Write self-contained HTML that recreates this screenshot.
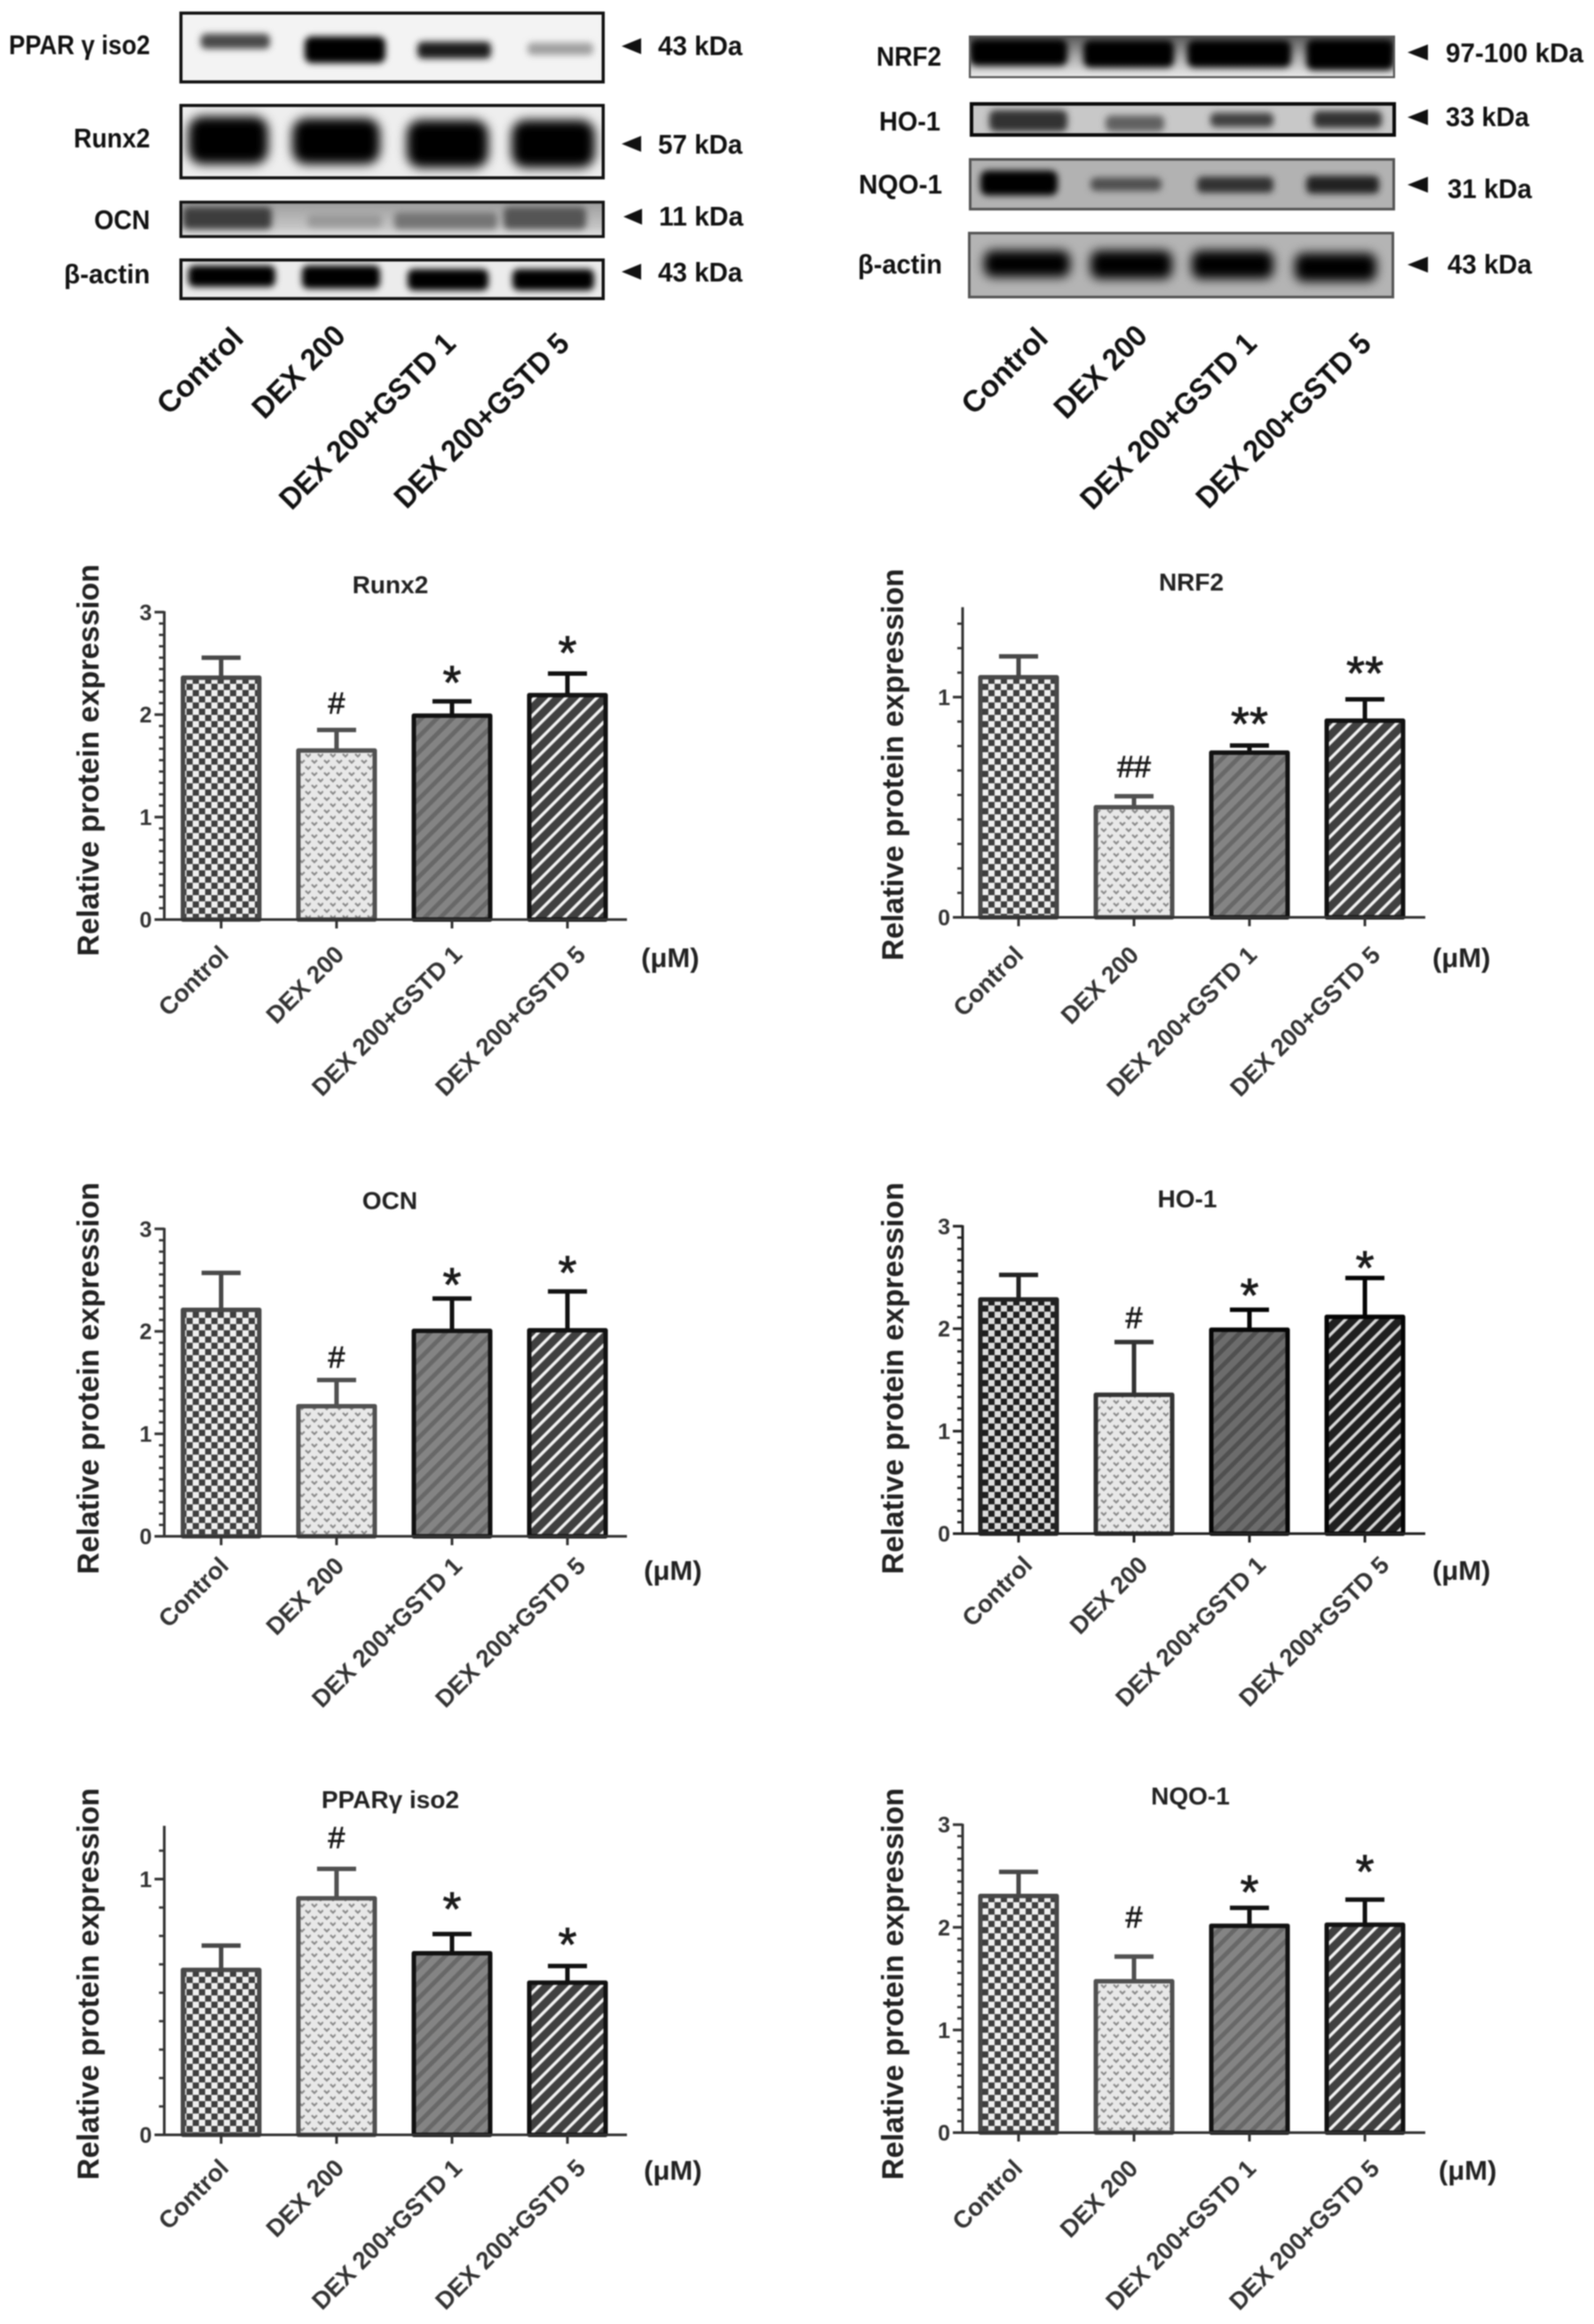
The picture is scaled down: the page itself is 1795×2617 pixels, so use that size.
<!DOCTYPE html>
<html lang="en">
<head>
<meta charset="utf-8">
<title>Western blots and relative protein expression</title>
<style>
html,body{margin:0;padding:0;background:#fff;}
#figure{display:block;width:1795px;height:2617px;filter:blur(0.8px);font-family:"Liberation Sans",sans-serif;}
.bt{font-family:"Liberation Sans",sans-serif;font-weight:700;font-size:31px;fill:#111;}
.sl{font-family:"Liberation Sans",sans-serif;font-weight:700;font-size:34px;fill:#111;}
</style>
</head>
<body>
<svg id="figure" xmlns="http://www.w3.org/2000/svg" width="1795" height="2617" viewBox="0 0 1795 2617">
<defs>
<filter id="b3" x="-20%" y="-60%" width="140%" height="220%"><feGaussianBlur stdDeviation="3.6"/></filter>
<filter id="b5" x="-20%" y="-60%" width="140%" height="220%"><feGaussianBlur stdDeviation="6"/></filter>
<pattern id="checkStd" width="14" height="14" patternUnits="userSpaceOnUse"><rect width="14" height="14" fill="#efefef"/><rect width="7" height="7" fill="#3e3e3e"/><rect x="7" y="7" width="7" height="7" fill="#3e3e3e"/></pattern>
<pattern id="checkDark" width="14" height="14" patternUnits="userSpaceOnUse"><rect width="14" height="14" fill="#dcdcdc"/><rect width="7" height="7" fill="#1e1e1e"/><rect x="7" y="7" width="7" height="7" fill="#1e1e1e"/></pattern>
<pattern id="dotStd" width="14" height="14" patternUnits="userSpaceOnUse"><rect width="14" height="14" fill="#e8e8e8"/><path d="M1 2l3 3 3-3M8 9l3 3 3-3" fill="none" stroke="#888" stroke-width="2"/></pattern>
<pattern id="grayStd" width="12.4" height="12.4" patternUnits="userSpaceOnUse" patternTransform="rotate(45)"><rect width="12.4" height="12.4" fill="#848484"/><rect width="5" height="12.4" fill="#686868"/></pattern>
<pattern id="grayDark" width="12.4" height="12.4" patternUnits="userSpaceOnUse" patternTransform="rotate(45)"><rect width="12.4" height="12.4" fill="#6c6c6c"/><rect width="5" height="12.4" fill="#505050"/></pattern>
<pattern id="lineStd" width="12.4" height="12.4" patternUnits="userSpaceOnUse" patternTransform="rotate(45)"><rect width="12.4" height="12.4" fill="#404040"/><rect width="3.4" height="12.4" fill="#f4f4f4"/></pattern>
<pattern id="lineDark" width="12.4" height="12.4" patternUnits="userSpaceOnUse" patternTransform="rotate(45)"><rect width="12.4" height="12.4" fill="#202020"/><rect width="3.4" height="12.4" fill="#d8d8d8"/></pattern>
<linearGradient id="ocnBg" x1="0" y1="0" x2="0" y2="1"><stop offset="0" stop-color="#9a9a9a"/><stop offset="0.7" stop-color="#c4c4c4"/><stop offset="1" stop-color="#e8e8e8"/></linearGradient>
<linearGradient id="nrfBg" x1="0" y1="0" x2="0" y2="1"><stop offset="0" stop-color="#555"/><stop offset="0.5" stop-color="#aaa"/><stop offset="1" stop-color="#efefef"/></linearGradient>
</defs>

<g id="blot-left">
  <svg x="202" y="13" width="479" height="81" viewBox="202 13 479 81">
    <rect x="202" y="13" width="479" height="81" fill="#f3f3f3"/>
    <g filter="url(#b3)">
      <rect x="226" y="38" width="78" height="17" rx="6" fill="#4a4a4a"/>
      <rect x="343" y="41" width="91" height="30" rx="8" fill="#000"/>
      <rect x="470" y="47" width="83" height="19" rx="6" fill="#1a1a1a"/>
      <rect x="594" y="48" width="74" height="14" rx="5" fill="#a0a0a0"/>
    </g>
    <rect x="203.5" y="14.5" width="476" height="78" fill="none" stroke="#111" stroke-width="4"/>
  </svg>
  <svg x="202" y="117" width="479" height="85" viewBox="202 117 479 85">
    <rect x="202" y="117" width="479" height="85" fill="#eeeeee"/>
    <g filter="url(#b5)">
      <rect x="212" y="131" width="90" height="54" rx="16" fill="#000"/>
      <rect x="329" y="133" width="99" height="52" rx="16" fill="#050505"/>
      <rect x="458" y="135" width="92" height="54" rx="16" fill="#000"/>
      <rect x="576" y="135" width="94" height="54" rx="16" fill="#000"/>
    </g>
    <rect x="203.5" y="118.5" width="476" height="82" fill="none" stroke="#111" stroke-width="4"/>
  </svg>
  <svg x="202" y="226" width="479" height="42" viewBox="202 226 479 42">
    <rect x="202" y="226" width="479" height="42" fill="url(#ocnBg)"/>
    <g filter="url(#b3)">
      <rect x="206" y="233" width="100" height="25" rx="6" fill="#3e3e3e"/>
      <rect x="346" y="241" width="84" height="15" rx="5" fill="#999"/>
      <rect x="444" y="239" width="116" height="19" rx="5" fill="#747474"/>
      <rect x="567" y="233" width="93" height="25" rx="6" fill="#555"/>
    </g>
    <rect x="203.5" y="227.5" width="476" height="39" fill="none" stroke="#111" stroke-width="3.5"/>
  </svg>
  <svg x="202" y="291" width="479" height="47" viewBox="202 291 479 47">
    <rect x="202" y="291" width="479" height="47" fill="#ececec"/>
    <g filter="url(#b3)">
      <rect x="212" y="299" width="98" height="24" rx="7" fill="#000"/>
      <rect x="340" y="299" width="88" height="26" rx="7" fill="#000"/>
      <rect x="459" y="303" width="91" height="24" rx="7" fill="#000"/>
      <rect x="577" y="303" width="92" height="24" rx="7" fill="#000"/>
    </g>
    <rect x="203.5" y="292.5" width="476" height="44" fill="none" stroke="#111" stroke-width="4"/>
  </svg>

  <text class="bt" x="10" y="61" textLength="159" lengthAdjust="spacingAndGlyphs">PPAR γ iso2</text>
  <text class="bt" x="83" y="166" textLength="86" lengthAdjust="spacingAndGlyphs">Runx2</text>
  <text class="bt" x="106" y="258" textLength="63" lengthAdjust="spacingAndGlyphs">OCN</text>
  <text class="bt" x="72" y="319" textLength="97" lengthAdjust="spacingAndGlyphs">β-actin</text>

  <text class="bt" x="741" y="62" textLength="95" lengthAdjust="spacingAndGlyphs">43 kDa</text>
  <text class="bt" x="741" y="173" textLength="95" lengthAdjust="spacingAndGlyphs">57 kDa</text>
  <text class="bt" x="742" y="254" textLength="95" lengthAdjust="spacingAndGlyphs">11 kDa</text>
  <text class="bt" x="741" y="317" textLength="95" lengthAdjust="spacingAndGlyphs">43 kDa</text>

  <polygon points="700,52 722,43 722,61" fill="#111"/>
  <polygon points="700,162 722,153 722,171" fill="#111"/>
  <polygon points="702,244 723,235 723,253" fill="#111"/>
  <polygon points="700,306 722,297 722,315" fill="#111"/>

  <text class="sl" transform="translate(276 383) rotate(-45)" text-anchor="end" textLength="121" lengthAdjust="spacingAndGlyphs">Control</text>
  <text class="sl" transform="translate(391 380) rotate(-45)" text-anchor="end" textLength="132" lengthAdjust="spacingAndGlyphs">DEX 200</text>
  <text class="sl" transform="translate(515 389) rotate(-45)" text-anchor="end" textLength="264" lengthAdjust="spacingAndGlyphs">DEX 200+GSTD 1</text>
  <text class="sl" transform="translate(643 389) rotate(-45)" text-anchor="end" textLength="262" lengthAdjust="spacingAndGlyphs">DEX 200+GSTD 5</text>
</g>

<g id="blot-right">
  <svg x="1091" y="40" width="480" height="48" viewBox="1091 40 480 48">
    <rect x="1091" y="40" width="480" height="48" fill="url(#nrfBg)"/>
    <g filter="url(#b3)">
      <rect x="1092" y="44" width="110" height="30" rx="8" fill="#000"/>
      <rect x="1220" y="45" width="102" height="31" rx="8" fill="#000"/>
      <rect x="1337" y="45" width="117" height="31" rx="8" fill="#000"/>
      <rect x="1471" y="44" width="99" height="35" rx="8" fill="#000"/>
    </g>
    <rect x="1092" y="41" width="478" height="46" fill="none" stroke="#555" stroke-width="2.5"/>
  </svg>
  <svg x="1092" y="115" width="480" height="39" viewBox="1092 115 480 39">
    <rect x="1092" y="115" width="480" height="39" fill="#c8c8c8"/>
    <g filter="url(#b3)">
      <rect x="1114" y="124" width="88" height="24" rx="7" fill="#303030"/>
      <rect x="1245" y="130" width="66" height="18" rx="6" fill="#606060"/>
      <rect x="1363" y="127" width="71" height="16" rx="6" fill="#404040"/>
      <rect x="1479" y="125" width="77" height="19" rx="6" fill="#303030"/>
    </g>
    <rect x="1094" y="117" width="476" height="35" fill="none" stroke="#0a0a0a" stroke-width="4"/>
  </svg>
  <svg x="1091" y="178" width="480" height="59" viewBox="1091 178 480 59">
    <rect x="1091" y="178" width="480" height="59" fill="#b2b2b2"/>
    <g filter="url(#b3)">
      <rect x="1104" y="192" width="87" height="28" rx="8" fill="#000"/>
      <rect x="1228" y="200" width="80" height="15" rx="6" fill="#505050"/>
      <rect x="1348" y="199" width="86" height="18" rx="6" fill="#303030"/>
      <rect x="1471" y="198" width="82" height="20" rx="6" fill="#202020"/>
    </g>
    <rect x="1092.5" y="179.5" width="477" height="56" fill="none" stroke="#555" stroke-width="3"/>
  </svg>
  <svg x="1090" y="261" width="480" height="75" viewBox="1090 261 480 75">
    <rect x="1090" y="261" width="480" height="75" fill="#b4b4b4"/>
    <g filter="url(#b5)">
      <rect x="1108" y="282" width="97" height="30" rx="10" fill="#000"/>
      <rect x="1228" y="282" width="92" height="32" rx="10" fill="#000"/>
      <rect x="1342" y="282" width="92" height="32" rx="10" fill="#000"/>
      <rect x="1458" y="285" width="92" height="32" rx="10" fill="#000"/>
    </g>
    <rect x="1091.5" y="262.5" width="477" height="72" fill="none" stroke="#555" stroke-width="3"/>
  </svg>

  <text class="bt" x="987" y="74" textLength="73" lengthAdjust="spacingAndGlyphs">NRF2</text>
  <text class="bt" x="990" y="147" textLength="69" lengthAdjust="spacingAndGlyphs">HO-1</text>
  <text class="bt" x="967" y="218" textLength="94" lengthAdjust="spacingAndGlyphs">NQO-1</text>
  <text class="bt" x="966" y="308" textLength="95" lengthAdjust="spacingAndGlyphs">β-actin</text>

  <text class="bt" x="1628" y="70" textLength="155" lengthAdjust="spacingAndGlyphs">97-100 kDa</text>
  <text class="bt" x="1628" y="142" textLength="94" lengthAdjust="spacingAndGlyphs">33 kDa</text>
  <text class="bt" x="1630" y="223" textLength="95" lengthAdjust="spacingAndGlyphs">31 kDa</text>
  <text class="bt" x="1630" y="308" textLength="95" lengthAdjust="spacingAndGlyphs">43 kDa</text>

  <polygon points="1585,59 1608,50 1608,68" fill="#111"/>
  <polygon points="1585,132 1608,123 1608,141" fill="#111"/>
  <polygon points="1585,208 1608,199 1608,217" fill="#111"/>
  <polygon points="1585,298 1608,289 1608,307" fill="#111"/>

  <text class="sl" transform="translate(1182 383) rotate(-45)" text-anchor="end" textLength="121" lengthAdjust="spacingAndGlyphs">Control</text>
  <text class="sl" transform="translate(1294 380) rotate(-45)" text-anchor="end" textLength="132" lengthAdjust="spacingAndGlyphs">DEX 200</text>
  <text class="sl" transform="translate(1417 389) rotate(-45)" text-anchor="end" textLength="264" lengthAdjust="spacingAndGlyphs">DEX 200+GSTD 1</text>
  <text class="sl" transform="translate(1546 389) rotate(-45)" text-anchor="end" textLength="262" lengthAdjust="spacingAndGlyphs">DEX 200+GSTD 5</text>
</g>

<g id="charts"></g>
</svg>

<script>
const categories = ['Control', 'DEX 200', 'DEX 200+GSTD 1', 'DEX 200+GSTD 5'];
const yAxisTitle = 'Relative protein expression';
const unitLabel = '(μM)';

const runx2Values = [2.36, 1.65, 1.99, 2.19];
const runx2Errors = [0.195, 0.20, 0.14, 0.21];
const runx2Marks = ['', '#', '*', '*'];
const runx2MarkGaps = [0, 0.265, 0.25, 0.27];
const runx2Ticks = [0, 1, 2, 3];

const nrf2Values = [1.09, 0.50, 0.748, 0.893];
const nrf2Errors = [0.095, 0.05, 0.032, 0.097];
const nrf2Marks = ['', '##', '**', '**'];
const nrf2MarkGaps = [0, 0.135, 0.13, 0.15];
const nrf2Ticks = [0, 1];

const ocnValues = [2.21, 1.27, 2.005, 2.01];
const ocnErrors = [0.36, 0.255, 0.315, 0.38];
const ocnMarks = ['', '#', '*', '*'];
const ocnMarkGaps = [0, 0.225, 0.20, 0.25];
const ocnTicks = [0, 1, 2, 3];

const ho1Values = [2.285, 1.355, 1.99, 2.115];
const ho1Errors = [0.24, 0.515, 0.195, 0.38];
const ho1Marks = ['', '#', '*', '*'];
const ho1MarkGaps = [0, 0.24, 0.205, 0.165];
const ho1Ticks = [0, 1, 2, 3];

const ppargValues = [0.645, 0.925, 0.71, 0.595];
const ppargErrors = [0.095, 0.115, 0.075, 0.065];
const ppargMarks = ['', '#', '*', '*'];
const ppargMarkGaps = [0, 0.123, 0.125, 0.11];
const ppargTicks = [0, 1];

const nqo1Values = [2.305, 1.475, 2.015, 2.025];
const nqo1Errors = [0.235, 0.24, 0.175, 0.245];
const nqo1Marks = ['', '#', '*', '*'];
const nqo1MarkGaps = [0, 0.385, 0.22, 0.34];
const nqo1Ticks = [0, 1, 2, 3];

const minorPerUnit = 9;
const labelNudge = [2, 2, 5, 14];

const charts = [
  {key:'runx2', title:'Runx2', values:runx2Values, errors:runx2Errors, marks:runx2Marks, gaps:runx2MarkGaps, ticks:runx2Ticks, top:3,
   axisX:185, firstX:249, y0:1035.5, unit:115.4, titleX:439.5, titleY:668, yTitleX:111, yTitleY:856, labelDx:8, labelDy:41, unitX:722, unitY:1089, dark:false},
  {key:'nrf2', title:'NRF2', values:nrf2Values, errors:nrf2Errors, marks:nrf2Marks, gaps:nrf2MarkGaps, ticks:nrf2Ticks, top:1.404,
   axisX:1084, firstX:1147, y0:1033, unit:248, titleX:1341.5, titleY:665, yTitleX:1017, yTitleY:861, labelDx:5, labelDy:44, unitX:1613, unitY:1089, dark:false},
  {key:'ocn', title:'OCN', values:ocnValues, errors:ocnErrors, marks:ocnMarks, gaps:ocnMarkGaps, ticks:ocnTicks, top:3,
   axisX:185, firstX:249, y0:1730, unit:115.4, titleX:439, titleY:1361.5, yTitleX:111, yTitleY:1552, labelDx:8, labelDy:35, unitX:725, unitY:1779, dark:false},
  {key:'ho1', title:'HO-1', values:ho1Values, errors:ho1Errors, marks:ho1Marks, gaps:ho1MarkGaps, ticks:ho1Ticks, top:3,
   axisX:1084, firstX:1147, y0:1727, unit:115.4, titleX:1337, titleY:1359.5, yTitleX:1017, yTitleY:1552, labelDx:15, labelDy:37, unitX:1613, unitY:1779, dark:true},
  {key:'pparg', title:'PPARγ iso2', values:ppargValues, errors:ppargErrors, marks:ppargMarks, gaps:ppargMarkGaps, ticks:ppargTicks, top:1.205,
   axisX:185, firstX:249, y0:2404, unit:288, titleX:439.5, titleY:2036, yTitleX:111, yTitleY:2234, labelDx:8, labelDy:39, unitX:725, unitY:2454.5, dark:false},
  {key:'nqo1', title:'NQO-1', values:nqo1Values, errors:nqo1Errors, marks:nqo1Marks, gaps:nqo1MarkGaps, ticks:nqo1Ticks, top:3,
   axisX:1084, firstX:1147, y0:2401.5, unit:115.6, titleX:1340.5, titleY:2032, yTitleX:1017, yTitleY:2234, labelDx:4, labelDy:42, unitX:1620, unitY:2454.5, dark:false}
];

const NS = 'http://www.w3.org/2000/svg';
const BAR_STEP = 130, BAR_WIDTH = 86, CAP_WIDTH = 44;

function make(tag, attrs, parent) {
  const n = document.createElementNS(NS, tag);
  for (const k in attrs) n.setAttribute(k, attrs[k]);
  parent.appendChild(n);
  return n;
}
function xScale(c, i) { return c.firstX + i * BAR_STEP; }
function yScale(c, v) { return c.y0 - v * c.unit; }

function barFill(c, i) {
  if (i === 0) return c.dark ? 'url(#checkDark)' : 'url(#checkStd)';
  if (i === 1) return 'url(#dotStd)';
  if (i === 2) return c.dark ? 'url(#grayDark)' : 'url(#grayStd)';
  return c.dark ? 'url(#lineDark)' : 'url(#lineStd)';
}
function barStroke(c, i) {
  if (i === 0) return c.dark ? '#222' : '#484848';
  if (i === 1) return c.dark ? '#333' : '#505050';
  return c.dark ? '#050505' : '#111';
}

function drawChart(c, root) {
  const g = make('g', {}, root);
  
  

  const title = make('text', {x:c.titleX, y:c.titleY, 'text-anchor':'middle', 'font-size':28, 'font-weight':700, fill:'#222'}, g);
  title.textContent = c.title;
  
  

  const yTitle = make('text', {transform:'translate(' + c.yTitleX + ' ' + c.yTitleY + ') rotate(-90)', 'text-anchor':'middle', 'font-size':33.8, 'font-weight':700, fill:'#222'}, g);
  yTitle.textContent = yAxisTitle;
  
  

  // bars and error bars
  c.values.forEach(function (v, i) {
    const cx = xScale(c, i), color = barStroke(c, i), yv = yScale(c, v), ye = yScale(c, v + c.errors[i]);

    const stem = make('line', {x1:cx, x2:cx, y1:yv, y2:ye, stroke:color, 'stroke-width':5}, g);
    
    

    const cap = make('line', {x1:cx - CAP_WIDTH / 2, x2:cx + CAP_WIDTH / 2, y1:ye, y2:ye, stroke:color, 'stroke-width':5}, g);
    
    

    const bar = make('rect', {x:cx - BAR_WIDTH / 2, y:yv, width:BAR_WIDTH, height:c.y0 - yv, fill:barFill(c, i), stroke:color, 'stroke-width':5, 'stroke-linejoin':'round'}, g);
    
    

    if (c.marks[i]) {
      const isStar = c.marks[i].charAt(0) === '*';
      const yc = yScale(c, v + c.errors[i] + c.gaps[i]);
      const m = make('text', {x:cx, y:yc + (isStar ? 26 : 12), 'text-anchor':'middle', 'font-size':isStar ? 54 : 34, fill:'#1a1a1a', stroke:'#1a1a1a', 'stroke-width':0.8}, g);
      m.textContent = c.marks[i];
      
      
    }
  });

  // y axis
  const axisColor = c.dark ? '#222' : '#333';
  const axis = make('line', {x1:c.axisX, x2:c.axisX, y1:yScale(c, c.top) - 1, y2:c.y0 + 1.5, stroke:axisColor, 'stroke-width':3}, g);
  
  

  const minorCount = Math.floor(c.top * minorPerUnit + 0.001);
  for (let k = 1; k <= minorCount; k++) {
    const yt = c.y0 - k * c.unit / minorPerUnit;
    if (k % minorPerUnit === 0) continue;
    const mt = make('line', {x1:c.axisX - 6, x2:c.axisX, y1:yt, y2:yt, stroke:axisColor, 'stroke-width':2.6}, g);
    
    
  }
  c.ticks.forEach(function (t) {
    const yt = yScale(c, t);
    const tick = make('line', {x1:c.axisX - 11, x2:c.axisX, y1:yt, y2:yt, stroke:axisColor, 'stroke-width':3}, g);
    
    

    const lab = make('text', {x:c.axisX - 14, y:yt + 9, 'text-anchor':'end', 'font-size':25, 'font-weight':700, fill:'#333'}, g);
    lab.textContent = String(t);
    
    
  });

  // x axis
  const base = make('line', {x1:c.axisX - 11, x2:c.axisX + 521, y1:c.y0, y2:c.y0, stroke:axisColor, 'stroke-width':3}, g);
  
  

  categories.forEach(function (name, i) {
    const cx = xScale(c, i);
    const tick = make('line', {x1:cx, x2:cx, y1:c.y0, y2:c.y0 + 10, stroke:axisColor, 'stroke-width':3}, g);
    
    

    const lx = cx + c.labelDx + labelNudge[i], ly = c.y0 + c.labelDy;
    const lab = make('text', {transform:'translate(' + lx + ' ' + ly + ') rotate(-45)', 'text-anchor':'end', 'font-size':27.5, 'font-weight':700, fill:'#333'}, g);
    lab.textContent = name;
    
    
  });

  const unit = make('text', {x:c.unitX, y:c.unitY, 'font-size':31, 'font-weight':700, fill:'#222'}, g);
  unit.textContent = unitLabel;
  
  
}

const chartRoot = document.getElementById('charts');
charts.forEach(function (c) { drawChart(c, chartRoot); });
</script>
</body>
</html>
